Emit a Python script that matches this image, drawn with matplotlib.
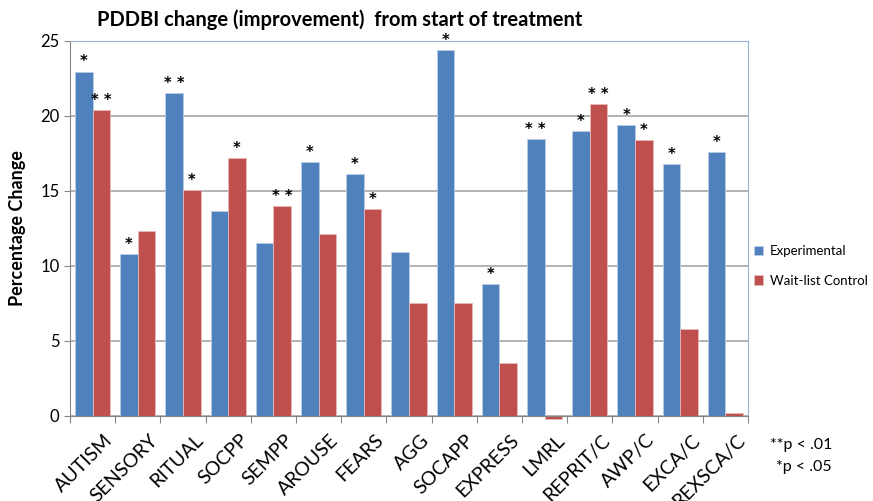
import numpy as np
import matplotlib.pyplot as plt

plt.rcParams['font.family'] = ['Lato', 'DejaVu Sans']

# PDDBI subscales and percentage change
categories = ["AUTISM", "SENSORY", "RITUAL", "SOCPP", "SEMPP", "AROUSE", "FEARS", "AGG",
              "SOCAPP", "EXPRESS", "LMRL", "REPRIT/C", "AWP/C", "EXCA/C", "REXSCA/C"]
experimental = [22.95, 10.8, 21.5, 13.65, 11.5, 16.9, 16.1, 10.9,
                24.4, 8.8, 18.45, 19.0, 19.4, 16.8, 17.6]
waitlist = [20.4, 12.35, 15.05, 17.2, 14.0, 12.15, 13.8, 7.55,
            7.55, 3.5, -0.2, 20.8, 18.4, 5.8, 0.2]
exp_sig = ["*", "*", "* *", "", "", "*", "*", "",
           "*", "*", "* *", "*", "*", "*", "*"]
wait_sig = ["* *", "", "*", "*", "* *", "", "*", "",
            "", "", "", "* *", "*", "", ""]

blue = '#4f81bd'
red = '#c0504d'

fig = plt.figure(figsize=(8.73, 5.01), dpi=100)
ax = fig.add_axes([0.0802, 0.1697, 0.7766, 0.7485])

x = np.arange(len(categories))
w = 0.39
ax.bar(x - w / 2, experimental, w, color=blue, edgecolor='#b9cde5', linewidth=0.6,
       label='Experimental', zorder=3, clip_on=False)
ax.bar(x + w / 2, waitlist, w, color=red, edgecolor='#e6b9b8', linewidth=0.6,
       label='Wait-list Control', zorder=3, clip_on=False)

# significance markers
for i in range(len(categories)):
    if exp_sig[i]:
        ax.text(x[i] - w / 2, max(experimental[i], 0) + 0.15, exp_sig[i], ha='center', va='bottom',
                fontsize=10.5, fontweight='bold', family='DejaVu Sans')
    if wait_sig[i]:
        ax.text(x[i] + w / 2, max(waitlist[i], 0) + 0.15, wait_sig[i], ha='center', va='bottom',
                fontsize=10.5, fontweight='bold', family='DejaVu Sans')

ax.set_xlim(-0.5, len(categories) - 0.5)
ax.set_ylim(0, 25)
ax.set_yticks([0, 5, 10, 15, 20, 25])
ax.tick_params(axis='y', labelsize=12, length=4, color='#868686')
ax.yaxis.grid(True, color='#a6a6a6', linewidth=1.2, zorder=0)
ax.set_axisbelow(True)

# ticks at category boundaries, labels at centers
ax.set_xticks(np.arange(len(categories) + 1) - 0.5)
ax.set_xticklabels([])
ax.tick_params(axis='x', length=5, color='#868686')
for i, c in enumerate(categories):
    ax.annotate(c, xy=(x[i], 0), xycoords=('data', 'axes fraction'),
                xytext=(8, -11), textcoords='offset points',
                ha='right', va='top', rotation=45, rotation_mode='anchor', fontsize=14)

for s in ['top', 'right']:
    ax.spines[s].set_color('#95b3d7')
ax.spines['left'].set_color('#868686')
ax.spines['bottom'].set_color('#868686')
ax.spines['bottom'].set_zorder(4)

ax.set_ylabel('Percentage Change', fontsize=13, fontweight='bold', labelpad=10)
fig.text(340 / 873, 1 - 20 / 501, 'PDDBI change (improvement)  from start of treatment',
         fontsize=14.5, fontweight='bold', ha='center', va='center')

ax.legend(loc='center left', bbox_to_anchor=(0.995, 0.40), frameon=False, fontsize=9.5,
          handlelength=0.7, handleheight=0.7, labelspacing=1.3, handletextpad=0.5,
          borderaxespad=0.3)

fig.text(0.882, 0.104, '**p < .01', fontsize=11.5)
fig.text(0.889, 0.06, '*p < .05', fontsize=11.5)

fig.savefig('out.png', dpi=100)
